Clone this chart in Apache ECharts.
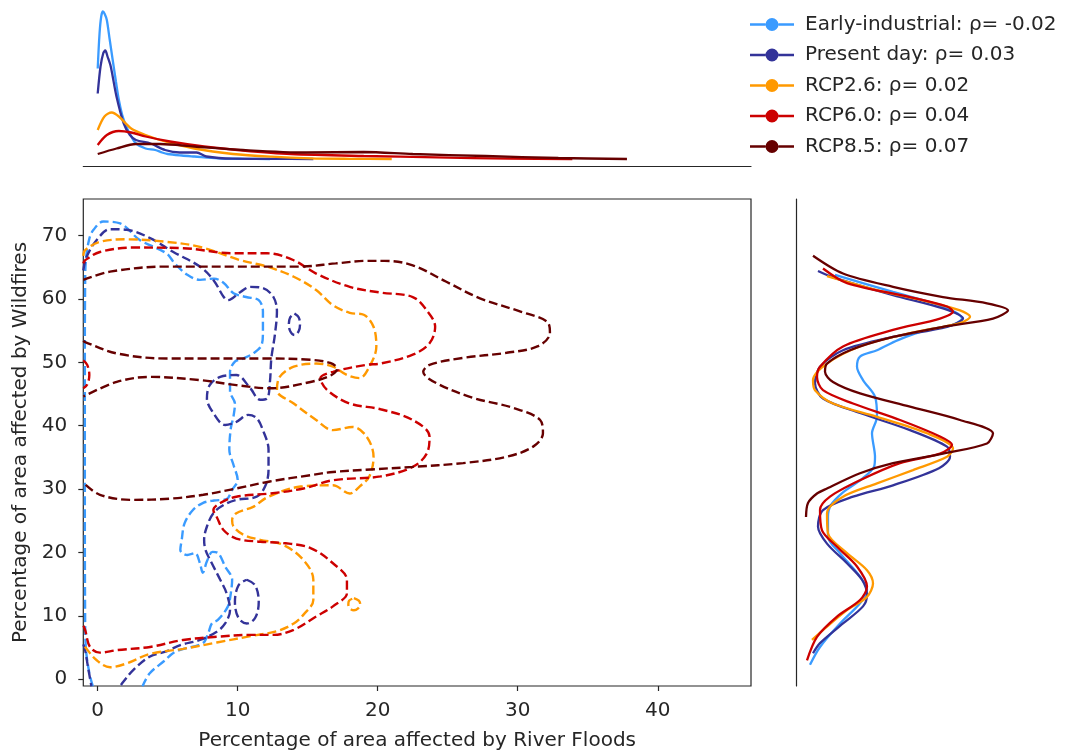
<!DOCTYPE html>
<html>
<head>
<meta charset="utf-8">
<script src="https://cdn.jsdelivr.net/npm/echarts@6/dist/echarts.min.js"></script>
<style>
  html, body { margin: 0; padding: 0; background: #fff; }
  #chart { width: 1072px; height: 751px; }
</style>
</head>
<body>
<div id="chart"></div>
<script>
  // axis ticks
  const floodTicks = [0, 10, 20, 30, 40];
  const fireTicks = [0, 10, 20, 30, 40, 50, 60, 70];

  const scenarioNames = [
    'Early-industrial: ρ= -0.02',
    'Present day: ρ= 0.03',
    'RCP2.6: ρ= 0.02',
    'RCP6.0: ρ= 0.04',
    'RCP8.5: ρ= 0.07'
  ];
  const scenarioColors = ['#3a9bff', '#333399', '#ff9900', '#cc0000', '#660000'];

  // marginal density of river floods  [flood %, density]
  const earlyFlood = [[0, 0.181], [0.13, 0.251], [0.25, 0.285], [0.37, 0.295], [0.5, 0.29], [0.65, 0.278], [0.85, 0.24], [1.07, 0.198], [1.3, 0.155], [1.51, 0.118], [1.75, 0.088], [2.04, 0.065], [2.4, 0.045], [2.73, 0.031], [3.42, 0.021], [4.11, 0.018], [4.6, 0.013], [5.0, 0.01], [6.0, 0.007], [6.9, 0.005], [8.6, 0.0014], [10.5, 0.0004], [12.3, 0]];
  const presentFlood = [[0, 0.131], [0.2, 0.185], [0.4, 0.212], [0.54, 0.217], [0.7, 0.205], [0.93, 0.185], [1.34, 0.125], [1.86, 0.071], [2.3, 0.048], [2.73, 0.038], [3.77, 0.031], [4.81, 0.018], [5.85, 0.013], [7.06, 0.013], [7.76, 0.005], [9.66, 0.0006], [12.5, 0.0002], [15.4, 0]];
  const rcp26Flood = [[0, 0.058], [0.48, 0.085], [1.0, 0.093], [1.51, 0.085], [2.39, 0.061], [3.42, 0.048], [4.81, 0.035], [6.89, 0.021], [9.66, 0.01], [12.4, 0.0046], [15.2, 0.0014], [18.0, 0.0004], [21.0, 0]];
  const rcp60Flood = [[0, 0.028], [0.65, 0.048], [1.51, 0.056], [2.39, 0.053], [3.42, 0.045], [5.16, 0.035], [7.59, 0.025], [10.36, 0.017], [13.8, 0.01], [19.0, 0.006], [24.2, 0.0034], [29.4, 0.0006], [33.9, 0]];
  const rcp85Flood = [[0, 0.01], [1.34, 0.021], [2.73, 0.03], [4.46, 0.03], [6.89, 0.025], [10.36, 0.018], [14.9, 0.013], [19.0, 0.014], [22.5, 0.01], [27.7, 0.006], [32.9, 0.002], [37.8, 0]];

  // marginal density of wildfires  [wildfire %, density]
  const earlyFire = [[63.8, 0.0064], [61.1, 0.018], [58.8, 0.028], [56.9, 0.0318], [55.9, 0.03], [55.1, 0.0248], [53.5, 0.019], [51.9, 0.0148], [50.9, 0.0114], [49.3, 0.0108], [47.2, 0.012], [44.6, 0.0144], [41.4, 0.0148], [38.8, 0.0138], [35.1, 0.0144], [33.5, 0.0142], [31.5, 0.0116], [29.5, 0.008], [27.5, 0.0056], [25.6, 0.005], [22.5, 0.005], [19.9, 0.0074], [16.2, 0.0114], [14.1, 0.0128], [12.0, 0.0114], [8.8, 0.0074], [5.1, 0.0034], [2.3, 0.0014]];
  const presentFire = [[64.4, 0.003], [63.4, 0.006], [60.6, 0.018], [58.5, 0.028], [56.9, 0.032], [55.6, 0.0288], [54.0, 0.018], [51.9, 0.008], [49.3, 0.0034], [46.7, 0.0024], [44.3, 0.004], [42.0, 0.0114], [39.3, 0.0214], [36.7, 0.0288], [35.1, 0.0294], [33.3, 0.0272], [30.6, 0.018], [28.8, 0.01], [26.7, 0.004], [24.1, 0.003], [21.4, 0.0048], [18.3, 0.0088], [15.7, 0.0118], [13.3, 0.0128], [11.5, 0.012], [8.8, 0.008], [5.7, 0.0034], [4.1, 0.002]];
  const rcp26Fire = [[63.6, 0.0048], [61.4, 0.0148], [59.6, 0.0248], [58.2, 0.0314], [57.2, 0.0334], [56.2, 0.0314], [54.6, 0.0214], [52.5, 0.0114], [49.8, 0.0048], [47.2, 0.002], [45.6, 0.0024], [43.5, 0.006], [41.4, 0.0148], [38.8, 0.0248], [36.4, 0.03], [35.1, 0.0288], [33.0, 0.022], [30.9, 0.0148], [28.8, 0.008], [26.2, 0.0048], [23.0, 0.005], [19.9, 0.0088], [17.2, 0.0128], [15.1, 0.014], [13.0, 0.0128], [10.9, 0.0088], [8.3, 0.0048], [6.2, 0.0018]];
  const rcp60Fire = [[64.8, 0.004], [62.5, 0.0088], [60.3, 0.0214], [58.8, 0.0288], [58.0, 0.03], [56.9, 0.0274], [55.1, 0.018], [52.5, 0.008], [49.3, 0.0034], [47.7, 0.0028], [45.6, 0.004], [43.5, 0.01], [40.9, 0.0194], [38.3, 0.0274], [37.0, 0.0298], [35.6, 0.0274], [34.1, 0.0194], [31.4, 0.0114], [28.8, 0.0054], [26.7, 0.0034], [23.5, 0.0038], [20.9, 0.0068], [17.8, 0.0108], [14.6, 0.0128], [12.5, 0.0114], [9.9, 0.0068], [6.7, 0.0028], [3.0, 0.0008]];
  const rcp85Fire = [[66.8, 0.002], [64.0, 0.008], [61.9, 0.018], [60.3, 0.028], [59.3, 0.0368], [58.2, 0.041], [56.9, 0.038], [55.6, 0.028], [54.0, 0.018], [51.9, 0.0094], [49.8, 0.0048], [48.5, 0.0044], [46.9, 0.006], [45.1, 0.0114], [43.0, 0.0214], [40.9, 0.0314], [38.8, 0.038], [37.2, 0.0368], [35.6, 0.028], [34.1, 0.018], [32.5, 0.0114], [30.1, 0.0048], [29.3, 0.0028], [27.8, 0.001], [25.6, 0.0006]];

  // KDE contour paths  [flood %, wildfire %]
  const earlyContours = [
    [[-0.35, -1.1], [-0.6, 1.0], [-0.85, 5.0], [-0.9, 10.0], [-0.92, 30.0], [-0.92, 50.0], [-0.9, 62.0], [-0.85, 66.0], [-0.6, 69.5], [-0.3, 70.9], [0.4, 72.2], [1.6, 71.9], [3.0, 69.3], [4.9, 67.2], [5.5, 65.6], [6.4, 63.8], [7.3, 63.0], [8.3, 63.2], [9.0, 62.5], [9.7, 60.9], [10.6, 60.3], [11.5, 59.8], [11.8, 58.0], [11.8, 54.8], [11.7, 52.7], [11.1, 51.4], [10.4, 50.6], [9.8, 50.1], [9.45, 48.5], [9.45, 45.4], [9.8, 43.5], [9.7, 41.5], [9.5, 39.5], [9.4, 36.2], [9.7, 33.8], [10.0, 31.4], [9.6, 29.9], [9.2, 28.4], [8.3, 28.2], [7.5, 27.8], [6.8, 26.7], [6.2, 24.6], [6.0, 22.0], [5.9, 20.4], [6.4, 19.6], [6.95, 19.9], [7.3, 18.3], [7.5, 16.8], [7.8, 18.6], [8.2, 20.1], [8.6, 19.9], [9.1, 17.8], [9.6, 15.7], [9.5, 13.5], [9.3, 11.5], [8.6, 9.4], [8.15, 8.8], [7.9, 7.3], [7.5, 5.7], [5.6, 4.4], [4.7, 2.8], [3.7, 0.9], [3.2, -1.1]]
  ];
  const presentContours = [
    [[-1.03, 64.5], [-0.8, 66.6], [-0.07, 69.3], [0.88, 71.0], [2.07, 70.9], [3.74, 69.6], [5.4, 67.4], [7.3, 65.1], [8.26, 63.0], [9.0, 60.3], [9.3, 59.8], [10.2, 61.1], [10.9, 61.9], [11.8, 61.7], [12.55, 60.3], [12.8, 58.0], [12.65, 54.3], [12.4, 50.6], [12.3, 46.9], [12.1, 44.3], [11.6, 44.1], [10.9, 45.9], [9.9, 48.0], [8.75, 47.7], [8.0, 46.4], [7.8, 44.3], [8.26, 42.0], [9.1, 40.1], [9.9, 40.6], [10.75, 41.7], [11.35, 41.2], [11.8, 39.3], [12.2, 36.2], [12.2, 33.0], [11.95, 30.4], [11.35, 28.8], [9.9, 28.3], [9.0, 27.5], [8.26, 26.2], [7.8, 24.1], [7.6, 22.0], [7.7, 20.4], [8.15, 18.3], [8.75, 15.7], [9.2, 13.6], [9.45, 10.9], [9.1, 8.8], [8.5, 7.5], [7.3, 6.2], [5.9, 5.4], [4.9, 4.4], [3.74, 3.6], [2.55, 1.5], [1.83, -0.4], [1.6, -1.1]],
    [[-1.03, 5.5], [-0.9, 4.6], [-0.7, 2.0], [-0.45, -1.1]],
    [[14.05, 57.7], [14.35, 57.1], [14.45, 56.0], [14.35, 54.9], [14.05, 54.3], [13.75, 54.9], [13.65, 56.0], [13.75, 57.1], [14.05, 57.7]],
    [[10.65, 15.7], [11.25, 14.8], [11.5, 12.2], [11.25, 9.7], [10.65, 8.8], [10.05, 9.7], [9.8, 12.2], [10.05, 14.8], [10.65, 15.7]]
  ];
  const rcp26Contours = [
    [[-1.03, 66.8], [-0.9, 67.7], [0.16, 69.0], [2.07, 69.4], [4.93, 69.0], [7.3, 68.2], [10.2, 66.1], [12.1, 65.1], [14.0, 63.5], [15.6, 61.4], [16.8, 59.0], [18.0, 57.8], [19.0, 57.5], [19.7, 55.6], [19.9, 52.5], [19.4, 49.3], [18.7, 47.5], [17.8, 48.0], [16.8, 49.3], [15.6, 49.8], [14.0, 49.3], [13.0, 47.7], [12.8, 45.6], [14.0, 43.5], [15.6, 40.9], [16.8, 39.3], [18.2, 39.8], [19.2, 38.3], [19.7, 35.1], [19.4, 32.0], [18.7, 30.4], [18.0, 29.3], [16.8, 30.6], [14.5, 30.4], [12.2, 28.8], [11.1, 27.2], [9.9, 26.2], [9.6, 25.1], [9.7, 24.1], [10.4, 22.8], [11.6, 22.0], [13.25, 21.2], [14.7, 18.8], [15.4, 15.7], [15.4, 12.5], [14.7, 10.2], [14.0, 8.8], [12.8, 7.6], [10.9, 6.8], [8.5, 5.8], [6.1, 4.8], [3.74, 4.0], [2.07, 2.5], [0.88, 1.9], [-0.07, 3.0], [-0.9, 5.1], [-1.03, 5.6]],
    [[18.3, 12.8], [18.65, 12.4], [18.75, 11.8], [18.6, 11.2], [18.3, 10.9], [18.0, 11.2], [17.9, 11.8], [17.95, 12.4], [18.3, 12.8]]
  ];
  const rcp60Contours = [
    [[-1.03, 65.6], [-0.9, 66.1], [0.16, 67.4], [2.5, 68.1], [6.1, 68.0], [9.7, 67.2], [12.1, 67.2], [14.0, 66.1], [15.6, 64.0], [18.0, 61.9], [20.2, 61.0], [22.5, 60.3], [23.5, 58.2], [24.1, 55.6], [23.7, 53.0], [22.5, 51.2], [20.2, 49.8], [19.2, 49.6], [16.8, 48.5], [15.9, 47.5], [16.4, 45.6], [18.0, 43.5], [20.2, 42.6], [22.5, 40.9], [23.7, 38.3], [23.5, 35.6], [22.5, 33.5], [20.2, 32.0], [16.8, 31.4], [14.7, 30.1], [12.3, 29.3], [9.9, 28.8], [8.75, 27.8], [8.26, 26.7], [8.5, 25.6], [9.0, 23.5], [9.9, 22.2], [11.6, 21.7], [13.25, 21.5], [15.2, 20.7], [16.8, 18.3], [17.8, 15.7], [17.8, 13.6], [16.8, 11.5], [15.6, 9.9], [14.0, 7.8], [12.55, 7.0], [10.9, 7.0], [8.5, 6.7], [6.1, 6.2], [3.74, 5.1], [1.36, 4.6], [0.16, 4.2], [-0.55, 5.1], [-0.9, 7.8], [-1.03, 8.5]],
    [[-1.03, 50.3], [-0.75, 49.6], [-0.6, 48.0], [-0.75, 46.5], [-1.03, 45.9]]
  ];
  const rcp85Contours = [
    [[-1.03, 63.0], [0.88, 64.3], [4.93, 65.1], [9.7, 65.1], [14.45, 65.1], [17.0, 65.6], [19.2, 66.0], [20.5, 66.0], [22.5, 65.3], [24.9, 62.7], [27.3, 60.1], [30.2, 58.0], [32.1, 56.4], [32.3, 54.6], [31.4, 52.5], [29.2, 51.5], [26.1, 50.7], [23.7, 49.6], [23.25, 48.5], [24.2, 46.7], [26.8, 44.4], [29.7, 42.8], [31.6, 40.9], [31.8, 38.8], [31.1, 36.7], [29.2, 35.1], [26.1, 34.1], [22.5, 33.5], [19.5, 33.1], [16.8, 32.7], [15.2, 32.2], [12.3, 31.2], [9.9, 30.1], [7.54, 29.1], [5.2, 28.5], [2.5, 28.3], [0.16, 29.1], [-1.03, 31.0]],
    [[-1.03, 53.4], [-0.9, 53.2], [1.36, 51.4], [4.93, 50.6], [12.1, 50.6], [15.2, 50.4], [16.6, 49.9], [17.1, 49.0], [16.7, 48.0], [15.2, 46.9], [12.3, 45.9], [9.9, 46.4], [7.3, 47.2], [3.74, 47.7], [1.36, 46.9], [-1.03, 44.6]]
  ];

  const floodDensities = [earlyFlood, presentFlood, rcp26Flood, rcp60Flood, rcp85Flood];
  const fireDensities = [earlyFire, presentFire, rcp26Fire, rcp60Fire, rcp85Fire];
  const contourSets = [earlyContours, presentContours, rcp26Contours, rcp60Contours, rcp85Contours];

  const font = 'DejaVu Sans';
  const ink = '#262626';
  // legend marker: line with a dot in the middle
  const legendIcon = 'path://M0,5.3 L15.5,5.3 L15.5,7.7 L0,7.7 Z M28.5,5.3 L44,5.3 L44,7.7 L28.5,7.7 Z M15.5,6.5 A6.5,6.5 0 1,0 28.5,6.5 A6.5,6.5 0 1,0 15.5,6.5 Z';

  const series = [];
  scenarioNames.forEach((name, i) => {
    series.push({
      name: name, type: 'line', xAxisIndex: 1, yAxisIndex: 1,
      data: floodDensities[i], symbol: 'none', smooth: 0.3, silent: true,
      lineStyle: { color: scenarioColors[i], width: 2.3 },
      itemStyle: { color: scenarioColors[i] }
    });
  });
  scenarioNames.forEach((name, i) => {
    series.push({
      name: name, type: 'line', xAxisIndex: 2, yAxisIndex: 2,
      data: fireDensities[i].map(p => [p[1], p[0]]), symbol: 'none', smooth: 0.3, silent: true,
      lineStyle: { color: scenarioColors[i], width: 2.3 },
      itemStyle: { color: scenarioColors[i] }
    });
  });
  scenarioNames.forEach((name, i) => {
    contourSets[i].forEach(path => {
      series.push({
        name: name, type: 'line', xAxisIndex: 0, yAxisIndex: 0,
        data: path, symbol: 'none', smooth: 0.35, silent: true,
        lineStyle: { color: scenarioColors[i], width: 2.4, type: [9, 4] },
        itemStyle: { color: scenarioColors[i] }
      });
    });
  });

  const chart = echarts.init(document.getElementById('chart'), null, { renderer: 'canvas' });
  chart.setOption({
    animation: false,
    backgroundColor: '#fff',
    textStyle: { fontFamily: font },
    legend: {
      left: 745, top: 9.5, orient: 'vertical',
      itemWidth: 44, itemHeight: 13, itemGap: 10.5,
      selectedMode: false,
      data: scenarioNames.map(n => ({ name: n, icon: legendIcon })),
      itemStyle: { borderWidth: 0 },
      textStyle: { fontFamily: font, fontSize: 20, lineHeight: 20, color: ink, padding: [0, 0, 0, 6] }
    },
    grid: [
      { left: 83.3, right: 321, top: 199, bottom: 65, outerBoundsMode: 'none', show: true, borderColor: ink, borderWidth: 1.2, backgroundColor: 'transparent' },
      { left: 83.3, right: 321, top: 5, bottom: 585, outerBoundsMode: 'none' },
      { left: 796, right: 22, top: 199, bottom: 65, outerBoundsMode: 'none' }
    ],
    xAxis: [
      {
        gridIndex: 0, type: 'value', min: -1.03, max: 46.66,
        name: 'Percentage of area affected by River Floods', nameLocation: 'middle', nameGap: 45,
        nameTextStyle: { fontFamily: font, fontSize: 20, color: ink },
        axisLine: { show: false, onZero: false },
        axisTick: { show: true, length: 5, customValues: floodTicks, lineStyle: { color: ink, width: 1.2 } },
        axisLabel: { customValues: floodTicks, margin: 15, fontFamily: font, fontSize: 20, color: ink },
        splitLine: { show: false }
      },
      {
        gridIndex: 1, type: 'value', min: -1.03, max: 46.66,
        axisLine: { show: true, onZero: false, lineStyle: { color: ink, width: 1.2 } },
        axisTick: { show: false }, axisLabel: { show: false }, splitLine: { show: false }
      },
      {
        gridIndex: 2, type: 'value', min: -0.0014, max: 0.0494, show: false
      }
    ],
    yAxis: [
      {
        gridIndex: 0, type: 'value', min: -1.06, max: 75.76,
        name: 'Percentage of area affected by Wildfires', nameLocation: 'middle', nameGap: 37,
        nameTextStyle: { fontFamily: font, fontSize: 20, color: ink },
        axisLine: { show: false, onZero: false },
        axisTick: { show: true, length: 5, customValues: fireTicks, lineStyle: { color: ink, width: 1.2 } },
        axisLabel: { customValues: fireTicks, margin: 16, fontFamily: font, fontSize: 20, color: ink },
        splitLine: { show: false }
      },
      {
        gridIndex: 1, type: 'value', min: -0.014, max: 0.308, show: false
      },
      {
        gridIndex: 2, type: 'value', min: -1.06, max: 75.76,
        axisLine: { show: true, onZero: false, lineStyle: { color: ink, width: 1.2 } },
        axisTick: { show: false }, axisLabel: { show: false }, splitLine: { show: false }
      }
    ],
    series: series
  });
</script>
</body>
</html>
